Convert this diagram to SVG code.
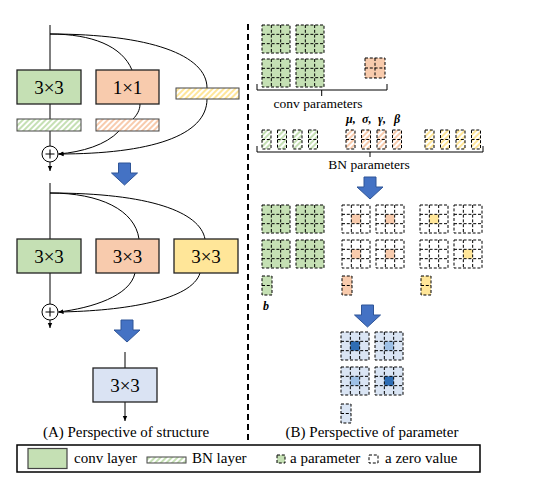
<svg xmlns="http://www.w3.org/2000/svg" width="535" height="480" viewBox="0 0 535 480" font-family="'Liberation Serif', 'Times New Roman', serif">
<style>
.ln{fill:none;stroke:#000;stroke-width:1}
.dl{fill:none;stroke:#000;stroke-width:1;stroke-dasharray:3 1.8}
.box{stroke:#222;stroke-width:1.3}
.bn{stroke:#444;stroke-width:1}
text{font-family:'Liberation Serif','Times New Roman',serif;fill:#000}
.big{font-size:19px}
.cap{font-size:15px}
.lab{font-size:13.5px}
.gr{font-size:12px;font-weight:bold;font-style:italic}
.arr{fill:#4472c4;stroke:#2f5597;stroke-width:1}
</style>
<defs>
<marker id="ah" markerWidth="6" markerHeight="6" refX="5" refY="3" orient="auto" markerUnits="userSpaceOnUse">
<path d="M0,0.8L5,3L0,5.2Z" fill="#000"/>
</marker>
<pattern id="hG" patternUnits="userSpaceOnUse" width="4" height="4" patternTransform="rotate(45)"><rect width="4" height="4" fill="#fff"/><rect width="2" height="4" fill="#c5e0b4"/></pattern>
<pattern id="hO" patternUnits="userSpaceOnUse" width="4" height="4" patternTransform="rotate(45)"><rect width="4" height="4" fill="#fff"/><rect width="2" height="4" fill="#f8cbad"/></pattern>
<pattern id="hY" patternUnits="userSpaceOnUse" width="4" height="4" patternTransform="rotate(45)"><rect width="4" height="4" fill="#fff"/><rect width="2" height="4" fill="#ffe699"/></pattern>
<path id="bigarrow" d="M-6,0H6V10H13L0,22L-13,10H-6Z"/>
<g id="l3"><rect x="0" y="0" width="28" height="28" class="dl"/><path d="M9.33,0V28M18.67,0V28M0,9.33H28M0,18.67H28" class="dl"/></g>
<g id="gG"><rect width="28" height="28" fill="#c5e0b4"/><use href="#l3"/></g>
<g id="gO"><rect width="28" height="28" fill="#fff"/><rect x="9.33" y="9.33" width="9.34" height="9.34" fill="#f8cbad"/><use href="#l3"/></g>
<g id="gY"><rect width="28" height="28" fill="#fff"/><rect x="9.33" y="9.33" width="9.34" height="9.34" fill="#ffe699"/><use href="#l3"/></g>
<g id="gW"><rect width="28" height="28" fill="#fff"/><use href="#l3"/></g>
<g id="gBd"><rect width="28" height="28" fill="#dae5f4"/><rect x="9.33" y="9.33" width="9.34" height="9.34" fill="#2e6db4"/><use href="#l3"/></g>
<g id="gBl"><rect width="28" height="28" fill="#dae5f4"/><rect x="9.33" y="9.33" width="9.34" height="9.34" fill="#9dc0e6"/><use href="#l3"/></g>
<g id="biasl"><rect width="10" height="19" class="dl"/><path d="M0,9.5H10" class="dl"/></g>
<g id="bnl"><rect width="9" height="19" class="dl"/><path d="M0,9.5H9" class="dl"/></g>
</defs>

<rect width="535" height="480" fill="#fff"/>

<g id="connectors">
<path class="ln" d="M50,25V70M50,104V119M50,131V146"/>
<path class="ln" d="M50,162V171" marker-end="url(#ah)"/>
<path class="ln" d="M50,34C92,34 122,46 132,70"/>
<path class="ln" d="M50,34C150,34 207,55 207,88"/>
<path class="ln" d="M140,104C140,110 137,115 133,119"/>
<path class="ln" d="M207,99C207,136 150,154 58.5,154" marker-end="url(#ah)"/>
<path class="ln" d="M119,131C106,145 82,152 58.5,154" marker-end="url(#ah)"/>
<path class="ln" d="M50,183V239M50,273V304"/>
<path class="ln" d="M50,320V328" marker-end="url(#ah)"/>
<path class="ln" d="M50,193C100,193 135,210 139,239"/>
<path class="ln" d="M50,193C150,193 200,212 205,239"/>
<path class="ln" d="M135,273C130,296 92,308 58.5,312" marker-end="url(#ah)"/>
<path class="ln" d="M200,273C192,300 125,311 58.5,312" marker-end="url(#ah)"/>
<path class="ln" d="M125,352V368"/>
<path class="ln" d="M125,402V421" marker-end="url(#ah)"/>
<path class="ln" d="M257,84V90H387V84M321.7,90V96"/>
<path class="ln" d="M257,146V152H483V146M370,152V157"/>
</g>

<g id="separator">
<path d="M248,24V443" fill="none" stroke="#000" stroke-width="2" stroke-dasharray="6 4"/>
</g>

<g id="block1">
<rect x="17" y="70" width="64" height="34" fill="#c5e0b4" class="box"/>
<text x="49" y="94" text-anchor="middle" class="big">3×3</text>
<rect x="96" y="70" width="63" height="34" fill="#f8cbad" class="box"/>
<text x="127.5" y="94" text-anchor="middle" class="big">1×1</text>
<rect x="176" y="88" width="63" height="11" fill="url(#hY)" class="bn"/>
<rect x="17" y="119" width="64" height="12" fill="url(#hG)" class="bn"/>
<rect x="96" y="119" width="63" height="12" fill="url(#hO)" class="bn"/>
<circle cx="50" cy="154" r="8" fill="#fff" stroke="#000" stroke-width="1"/>
<path d="M45.5,154H54.5M50,149.5V158.5" stroke="#000" stroke-width="1.1"/>
</g>

<g id="block2">
<rect x="17" y="239" width="64" height="34" fill="#c5e0b4" class="box"/>
<text x="49" y="263" text-anchor="middle" class="big">3×3</text>
<rect x="96" y="239" width="63" height="34" fill="#f8cbad" class="box"/>
<text x="127.5" y="263" text-anchor="middle" class="big">3×3</text>
<rect x="174" y="239" width="64" height="34" fill="#ffe699" class="box"/>
<text x="206" y="263" text-anchor="middle" class="big">3×3</text>
<circle cx="50" cy="312" r="8" fill="#fff" stroke="#000" stroke-width="1"/>
<path d="M45.5,312H54.5M50,307.5V316.5" stroke="#000" stroke-width="1.1"/>
</g>

<g id="block3">
<rect x="93" y="368" width="64" height="34" fill="#dae3f3" class="box"/>
<text x="125" y="392" text-anchor="middle" class="big">3×3</text>
</g>

<g id="arrows">
<use href="#bigarrow" x="124.5" y="163" class="arr"/>
<use href="#bigarrow" x="127" y="320" class="arr"/>
<use href="#bigarrow" x="370" y="177" class="arr"/>
<use href="#bigarrow" x="367.5" y="305" class="arr"/>
</g>

<g id="conv-params">
<use href="#gG" x="262" y="25"/>
<use href="#gG" x="296" y="25"/>
<use href="#gG" x="262" y="59"/>
<use href="#gG" x="296" y="59"/>
<rect x="365" y="58" width="20" height="20" fill="#f8cbad"/>
<rect x="365" y="58" width="20" height="20" class="dl"/>
<path d="M375,58V78M365,68H385" class="dl"/>
<text x="318" y="108" text-anchor="middle" class="lab">conv parameters</text>
</g>

<g id="bn-params">
<text x="346" y="123" class="gr">μ,</text>
<text x="362" y="123" class="gr">σ,</text>
<text x="378" y="123" class="gr">γ,</text>
<text x="394" y="123" class="gr">β</text>
<rect x="262" y="130" width="9" height="19" fill="url(#hG)"/><use href="#bnl" x="262" y="130"/>
<rect x="277.5" y="130" width="9" height="19" fill="url(#hG)"/><use href="#bnl" x="277.5" y="130"/>
<rect x="293" y="130" width="9" height="19" fill="url(#hG)"/><use href="#bnl" x="293" y="130"/>
<rect x="308.5" y="130" width="9" height="19" fill="url(#hG)"/><use href="#bnl" x="308.5" y="130"/>
<rect x="346" y="130" width="9" height="19" fill="url(#hO)"/><use href="#bnl" x="346" y="130"/>
<rect x="361.5" y="130" width="9" height="19" fill="url(#hO)"/><use href="#bnl" x="361.5" y="130"/>
<rect x="377" y="130" width="9" height="19" fill="url(#hO)"/><use href="#bnl" x="377" y="130"/>
<rect x="392.5" y="130" width="9" height="19" fill="url(#hO)"/><use href="#bnl" x="392.5" y="130"/>
<rect x="425" y="130" width="9" height="19" fill="url(#hY)"/><use href="#bnl" x="425" y="130"/>
<rect x="440.5" y="130" width="9" height="19" fill="url(#hY)"/><use href="#bnl" x="440.5" y="130"/>
<rect x="456" y="130" width="9" height="19" fill="url(#hY)"/><use href="#bnl" x="456" y="130"/>
<rect x="471.5" y="130" width="9" height="19" fill="url(#hY)"/><use href="#bnl" x="471.5" y="130"/>
<text x="369" y="169" text-anchor="middle" class="lab">BN parameters</text>
</g>

<g id="converted-params">
<use href="#gG" x="262" y="205"/>
<use href="#gG" x="296" y="205"/>
<use href="#gG" x="262" y="240"/>
<use href="#gG" x="296" y="240"/>
<use href="#gO" x="342" y="205"/>
<use href="#gO" x="376" y="205"/>
<use href="#gO" x="342" y="240"/>
<use href="#gO" x="376" y="240"/>
<use href="#gY" x="420" y="205"/>
<use href="#gW" x="454" y="205"/>
<use href="#gW" x="420" y="240"/>
<use href="#gY" x="454" y="240"/>
<rect x="262" y="276" width="10" height="19" fill="#c5e0b4"/><use href="#biasl" x="262" y="276"/>
<rect x="342" y="276" width="10" height="19" fill="#f8cbad"/><use href="#biasl" x="342" y="276"/>
<rect x="421" y="276" width="10" height="19" fill="#ffe699"/><use href="#biasl" x="421" y="276"/>
<text x="263" y="310" class="gr">b</text>
</g>

<g id="merged-params">
<use href="#gBd" x="341" y="332"/>
<use href="#gBl" x="375" y="332"/>
<use href="#gBl" x="341" y="367"/>
<use href="#gBd" x="375" y="367"/>
<rect x="341" y="404" width="10" height="19" fill="#dae5f4"/><use href="#biasl" x="341" y="404"/>
</g>

<g id="captions">
<text x="126" y="437" text-anchor="middle" class="cap">(A) Perspective of structure</text>
<text x="372" y="437" text-anchor="middle" class="cap">(B) Perspective of parameter</text>
</g>

<g id="legend">
<rect x="17" y="445" width="463" height="27" fill="#fff" stroke="#000" stroke-width="1.5"/>
<rect x="28" y="448.5" width="39" height="20" fill="#c5e0b4" stroke="#444" stroke-width="1.2"/>
<text x="74" y="463" class="cap">conv layer</text>
<rect x="147" y="457" width="39" height="6" fill="url(#hG)" stroke="#444" stroke-width="1"/>
<text x="192" y="463" class="cap">BN layer</text>
<rect x="277" y="455" width="8" height="8" fill="#c5e0b4"/>
<rect x="277" y="455" width="8" height="8" class="dl"/>
<text x="290" y="463" class="cap">a parameter</text>
<rect x="369" y="455" width="9" height="8" class="dl"/>
<text x="385" y="463" class="cap">a zero value</text>
</g>
</svg>
